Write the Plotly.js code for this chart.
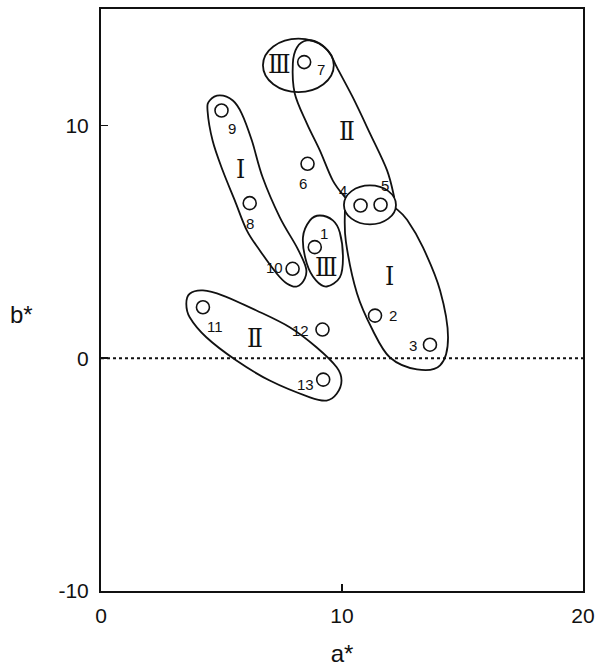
<!DOCTYPE html>
<html>
<head>
<meta charset="utf-8">
<script src="https://cdn.plot.ly/plotly-3.0.1.min.js"></script>
<style>
  html, body { margin: 0; padding: 0; background: #fff; }
  #chart { width: 597px; height: 667px; }
</style>
</head>
<body>
<div id="chart"></div>
<script>
// Sample numbers and their CIELAB chromaticity coordinates
const sampleIds = ['1', '2', '3', '4', '5', '6', '7', '8', '9', '10', '11', '12', '13'];
const aStar = [8.87, 11.37, 13.65, 10.77, 11.60, 8.57, 8.43, 6.17, 5.00, 7.95, 4.23, 9.19, 9.22];
const bStar = [4.77, 1.83, 0.58, 6.56, 6.59, 8.35, 12.72, 6.66, 10.64, 3.84, 2.19, 1.23, -0.92];

// Axis ticks
const xTicks = [0, 10, 20];
const yTicks = [-10, 0, 10];

// Where each sample number sits relative to its circle (px: right, down)
const idOffsets = [
  [9, -14], [18, 0], [-17, 1], [-18, -15], [4, -19], [-5, 20], [17, 7],
  [0, 20], [10, 18], [-18, -1], [12, 19], [-22, 1], [-18, 5]
];

// Hand-drawn group outlines (in a*/b* units); open ones end on the 4-5 ellipse
const outlines = [
  { closed: true, pts: [ // group I, left
    [4.93, 11.29], [5.47, 11.07], [5.84, 10.51], [6.26, 9.35], [6.71, 7.76], [7.42, 6.05],
    [8.13, 4.76], [8.50, 3.90], [8.46, 3.43], [8.13, 3.08], [7.71, 3.21], [7.29, 3.64],
    [6.59, 4.63], [6.05, 5.49], [5.55, 6.78], [5.05, 8.06], [4.63, 9.35], [4.42, 10.64], [4.51, 11.07]] },
  { closed: false, pts: [ // group II, upper
    [12.17, 6.90], [11.87, 8.07], [11.16, 9.66], [10.45, 11.20], [9.79, 12.49], [9.50, 13.09],
    [9.08, 13.52], [8.54, 13.65], [8.13, 13.35], [7.96, 12.66], [8.04, 11.37], [8.54, 10.09],
    [9.08, 8.93], [9.62, 7.63], [10.16, 6.87]] },
  { closed: true, pts: [ // group III around sample 1
    [9.08, 6.13], [9.62, 5.92], [9.91, 5.40], [10.04, 4.33], [9.91, 3.47], [9.37, 3.08],
    [8.92, 3.34], [8.54, 4.07], [8.38, 5.19], [8.67, 5.92]] },
  { closed: false, pts: [ // group I, right
    [10.12, 6.35], [10.16, 5.02], [10.62, 2.79], [11.28, 1.19], [11.99, 0.03], [13.11, -0.48],
    [14.07, -0.31], [14.40, 0.89], [14.07, 2.91], [13.36, 4.76], [12.70, 5.95], [12.22, 6.45]] },
  { closed: true, pts: [ // group II, lower
    [3.68, 2.77], [4.23, 2.91], [5.06, 2.69], [6.45, 2.05], [7.83, 1.33], [8.94, 0.47],
    [9.78, -0.39], [9.98, -0.96], [9.78, -1.53], [9.36, -1.82], [8.67, -1.68], [7.00, -0.96],
    [5.62, -0.10], [4.37, 0.90], [3.68, 1.76], [3.54, 2.34]] }
];

// Elliptical outlines: [x0, x1, y0, y1]
const ellipses = [
  [6.72, 9.66, 11.43, 13.73],   // group III around sample 7
  [10.08, 12.24, 5.75, 7.42]    // samples 4 and 5
];

// Group numerals
const groupLabels = [
  { text: 'Ⅲ', x: 7.42, y: 12.65 },
  { text: 'Ⅱ', x: 10.19, y: 9.78 },
  { text: 'Ⅰ', x: 5.80, y: 8.14 },
  { text: 'Ⅲ', x: 9.36, y: 3.91 },
  { text: 'Ⅰ', x: 11.96, y: 3.55 },
  { text: 'Ⅱ', x: 6.38, y: 0.88 }
];

// Catmull-Rom spline through the points -> cubic Bezier SVG path
function splinePath(pts, closed) {
  const n = pts.length;
  const f = v => v.toFixed(4);
  const at = i => closed ? pts[(i + n) % n] : pts[Math.max(0, Math.min(n - 1, i))];
  let d = 'M ' + f(pts[0][0]) + ',' + f(pts[0][1]);
  const segs = closed ? n : n - 1;
  for (let i = 0; i < segs; i++) {
    const p0 = at(i - 1), p1 = at(i), p2 = at(i + 1), p3 = at(i + 2);
    const c1 = [p1[0] + (p2[0] - p0[0]) / 6, p1[1] + (p2[1] - p0[1]) / 6];
    const c2 = [p2[0] - (p3[0] - p1[0]) / 6, p2[1] - (p3[1] - p1[1]) / 6];
    d += ' C ' + f(c1[0]) + ',' + f(c1[1]) + ' ' + f(c2[0]) + ',' + f(c2[1]) + ' ' + f(p2[0]) + ',' + f(p2[1]);
  }
  return closed ? d + ' Z' : d;
}

const ink = '#111';
const shapes = [];
// dotted b* = 0 line
shapes.push({
  type: 'line', xref: 'x', yref: 'y', x0: xTicks[0], x1: xTicks[xTicks.length - 1], y0: 0, y1: 0,
  line: { color: ink, width: 2, dash: 'dot' }, layer: 'below'
});
outlines.forEach(o => shapes.push({
  type: 'path', xref: 'x', yref: 'y', path: splinePath(o.pts, o.closed),
  line: { color: ink, width: 1.8 }, fillcolor: 'rgba(0,0,0,0)'
}));
ellipses.forEach(e => shapes.push({
  type: 'circle', xref: 'x', yref: 'y', x0: e[0], x1: e[1], y0: e[2], y1: e[3],
  line: { color: ink, width: 1.8 }, fillcolor: 'rgba(0,0,0,0)'
}));

const annotations = [];
sampleIds.forEach((id, i) => annotations.push({
  x: aStar[i], y: bStar[i], xref: 'x', yref: 'y', text: id, showarrow: false,
  xshift: idOffsets[i][0], yshift: -idOffsets[i][1],
  font: { family: 'Liberation Sans, Arial, sans-serif', size: 15, color: ink }
}));
groupLabels.forEach(g => annotations.push({
  x: g.x, y: g.y, xref: 'x', yref: 'y', text: g.text, showarrow: false,
  font: { family: 'DejaVu Serif Condensed, DejaVu Serif, Noto Sans CJK JP, serif', size: 26, color: ink }
}));
// b* axis label, written horizontally
annotations.push({
  x: -0.165, xref: 'paper', y: 1.88, yref: 'y', text: 'b*', showarrow: false,
  xanchor: 'center', yanchor: 'middle',
  font: { family: 'Liberation Sans, Arial, sans-serif', size: 24, color: ink }
});

const trace = {
  type: 'scatter', mode: 'markers', x: aStar, y: bStar, text: sampleIds,
  marker: { symbol: 'circle-open', size: 13, color: ink, line: { width: 1.6, color: ink } },
  hoverinfo: 'text+x+y', showlegend: false
};

const axisFont = { family: 'Liberation Sans, Arial, sans-serif', size: 21, color: ink };
const layout = {
  width: 597, height: 667,
  margin: { l: 101, r: 14, t: 9, b: 76 },
  paper_bgcolor: '#fff', plot_bgcolor: '#fff',
  showlegend: false,
  xaxis: {
    range: [0, 20], tickvals: xTicks, ticktext: xTicks.map(String),
    ticks: 'inside', ticklen: 7, tickwidth: 1.5, tickcolor: ink,
    showline: true, mirror: true, linewidth: 2, linecolor: ink,
    showgrid: false, zeroline: false, tickfont: axisFont, ticklabelstandoff: 5,
    title: { text: 'a*', font: { family: 'Liberation Sans, Arial, sans-serif', size: 24, color: ink }, standoff: 23 }
  },
  yaxis: {
    range: [-10, 15], tickvals: yTicks, ticktext: yTicks.map(String),
    ticks: 'inside', ticklen: 7, tickwidth: 1.5, tickcolor: ink,
    showline: true, mirror: true, linewidth: 2, linecolor: ink,
    showgrid: false, zeroline: false, tickfont: axisFont, ticklabelstandoff: 6
  },
  shapes: shapes,
  annotations: annotations
};

Plotly.newPlot('chart', [trace], layout, { displayModeBar: false, staticPlot: true });
</script>
</body>
</html>
